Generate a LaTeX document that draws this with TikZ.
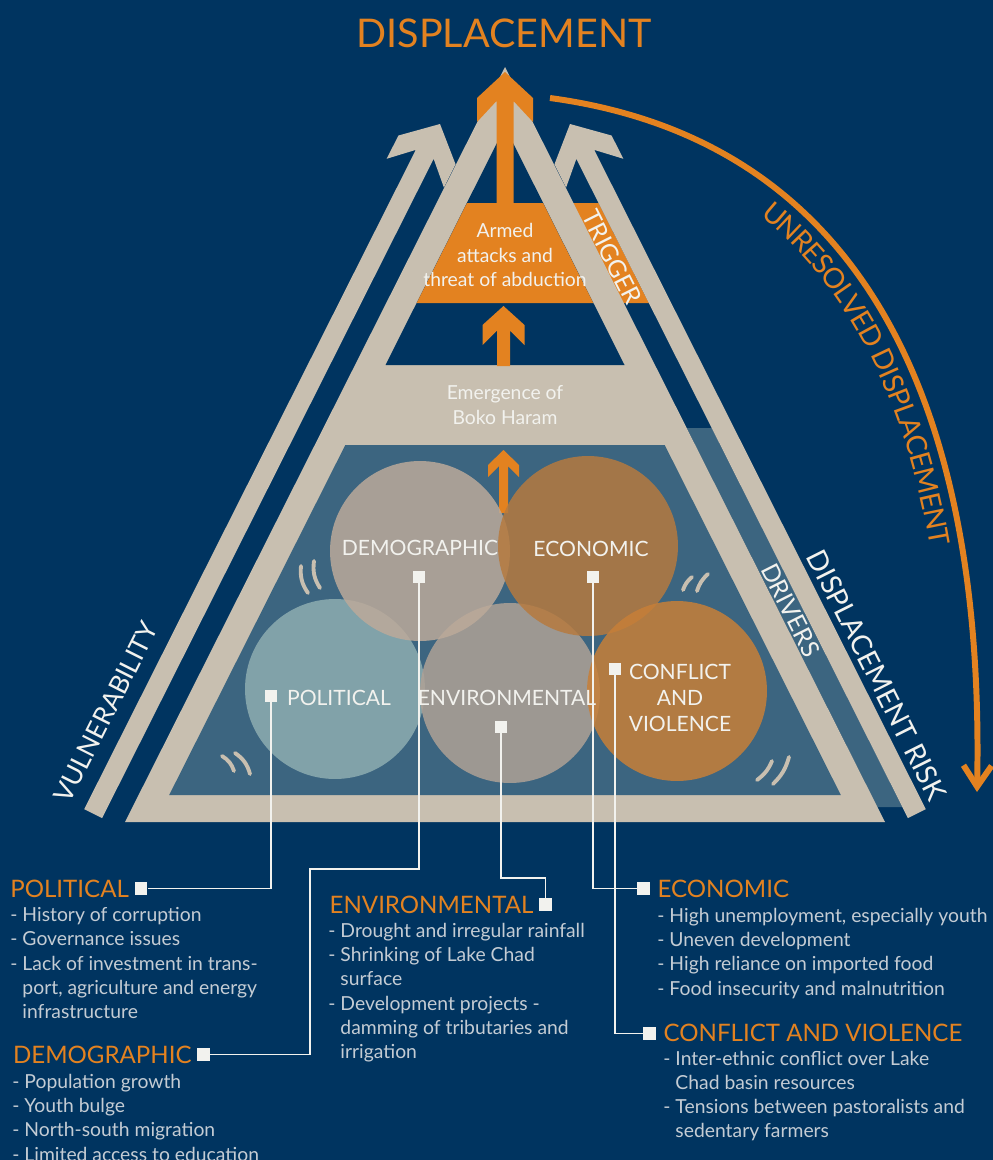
\documentclass[tikz,border=0pt]{standalone}
\usepackage{fontspec}
\setmainfont{Lato}
\usetikzlibrary{positioning,arrows.meta,decorations.text}

\definecolor{bgblue}{RGB}{0,52,96}
\definecolor{beige}{RGB}{200,191,176}
\definecolor{paleblue}{RGB}{60,101,128}
\definecolor{dorange}{RGB}{227,130,32}
\definecolor{listgray}{RGB}{196,204,212}
\definecolor{offwhite}{RGB}{242,242,238}
\definecolor{demfill}{RGB}{188,170,154}
\definecolor{ecofill}{RGB}{182,122,63}
\definecolor{polfill}{RGB}{142,173,177}
\definecolor{envfill}{RGB}{175,161,150}
\definecolor{confill}{RGB}{199,127,56}

% arrow pointing up, tip at the origin: half width, shoulder, wing end, half shaft, notch, length
\newcommand{\chevarrow}[6]{%
  \fill (0,0) -- (#1,#2) -- (#1,#3) -- (#4,#5) -- (#4,#6) -- (-#4,#6) -- (-#4,#5) -- (-#1,#3) -- (-#1,#2) -- cycle;}

\begin{document}
\begin{tikzpicture}[x=0.02cm, y=-0.02cm,
    drv/.style={circle, minimum size=3.6cm, inner sep=0pt, fill opacity=0.85},
    drvlabel/.style={text=offwhite, font=\fontsize{12}{14.7}\selectfont, align=center, inner sep=0pt},
    marker/.style={rectangle, fill=offwhite, minimum size=0.25cm, inner sep=0pt},
    link/.style={draw=offwhite, line width=0.8pt},
    heading/.style={text=dorange, font=\fontsize{13.7}{15}\selectfont, inner sep=0pt, anchor=west},
    listtext/.style={text=listgray, font=\fontsize{11}{13.8}\selectfont, align=left, inner sep=0pt, anchor=north west},
    sidetext/.style={text=offwhite, font=\fontsize{14}{14}\selectfont, inner sep=0pt},
    boxtext/.style={text=offwhite, font=\fontsize{11}{13.9}\selectfont, align=center, inner sep=0pt},
    quotemark/.style={draw=beige, line width=2.2pt, line cap=round},
  ]
  \useasboundingbox (0,0) rectangle (993,1160);
  \clip (0,0) rectangle (993,1160);
  \fill[bgblue] (0,0) rectangle (993,1160);

  % strips outside the triangle
  \fill[dorange] (450,203) -- (598.5,203) -- (648.9,303) -- (400,303) -- cycle;
  \fill[paleblue] (686.8,428) -- (711.7,428) -- (902.3,807) -- (877.5,807) -- cycle;

  % triangle
  \fill[beige] (125,822) -- (505,67) -- (885,822) -- cycle;
  \fill[bgblue] (505,127) -- (624.5,365) -- (385.5,365) -- cycle;
  \fill[paleblue] (345.3,445) -- (664.7,445) -- (840.8,795) -- (169.2,795) -- cycle;
  \fill[dorange] (467,203) -- (543,203) -- (593.3,303) -- (416.7,303) -- cycle;

  % side arrows
  \begin{scope}[beige, shift={(440,124)}, rotate=-26.7]
    \chevarrow{32}{29}{55}{10}{34}{772}
  \end{scope}
  \begin{scope}[beige, shift={(570,124)}, rotate=26.7]
    \chevarrow{32}{29}{55}{10}{34}{772}
  \end{scope}

  % orange arrows
  \begin{scope}[dorange, shift={(505,72)}]
    \chevarrow{28}{26}{50}{8.5}{29}{135}
  \end{scope}
  \begin{scope}[dorange, shift={(503.5,306)}]
    \chevarrow{21}{19}{39}{6.5}{24.5}{60}
  \end{scope}
  \begin{scope}[dorange, shift={(503.5,450)}]
    \chevarrow{15.5}{15}{27}{4.5}{16}{63}
  \end{scope}

  % unresolved displacement
  \coordinate (arcstart) at (550,98);
  \coordinate (arcend) at (977,792);
  \draw[dorange, line width=3.4pt, -{Straight Barb[length=12pt,width=16pt]}]
    (arcstart) .. controls (860,140) and (985,400) .. (arcend);
  \path[decorate, decoration={text along path,
      text={|\fontsize{16}{16}\selectfont\color{dorange}|UNRESOLVED DISPLACEMENT},
      text align=center, raise=-17.5pt}]
    (arcstart) .. controls (860,140) and (985,400) .. (arcend);

  % drivers
  \node[drv, fill=polfill] (cpol) at (335,689) {};
  \node[drv, fill=envfill] (cenv) at (510,693) {};
  \node[drv, fill=demfill] (cdem) at (420,551) {};
  \node[drv, fill=ecofill] (ceco) at (588,546) {};
  \node[drv, fill=confill] (ccon) at (677,691) {};

  \draw[quotemark] (301,566) to[bend right=20] (308,593);
  \draw[quotemark] (314,561) to[bend right=20] (320,588);
  \draw[quotemark] (222,756) to[bend left=20] (234,771);
  \draw[quotemark] (235,753) to[bend left=20] (250,774);
  \draw[quotemark] (683,590) to[bend left=15] (692,577);
  \draw[quotemark] (697,591) to[bend left=15] (708,574);
  \draw[quotemark] (757,780) to[bend right=15] (772,761);
  \draw[quotemark] (773,784) to[bend right=15] (789,757);

  \node[drvlabel] (ldem) at (420,548) {DEMOGRAPHIC};
  \node[drvlabel] (leco) at (591,549) {ECONOMIC};
  \node[drvlabel] (lpol) at (339,698) {POLITICAL};
  \node[drvlabel] (lenv) at (507,698) {ENVIRONMENTAL};
  \node[drvlabel] (lcon) at (680,698) {CONFLICT\\AND\\VIOLENCE};

  % texts in the triangle
  \node[text=dorange, font=\fontsize{22.5}{22.5}\selectfont, inner sep=0pt] (title) at (504,33) {DISPLACEMENT};
  \node[boxtext] (armed) at (505,255) {Armed\\attacks and\\threat of abduction};
  \node[boxtext] (boko) at (505,405) {Emergence of\\Boko Haram};
  \node[sidetext, rotate=-63.3] (trigger) at (612,257) {TRIGGER};
  \node[sidetext, rotate=-63.3] (drivers) at (791,610) {DRIVERS};
  \node[sidetext, font=\fontsize{16}{16}\selectfont, rotate=-63.3] (risk) at (877,675) {DISPLACEMENT RISK};
  \node[sidetext, font=\fontsize{15}{15}\selectfont, rotate=63.3] (vuln) at (106,712) {VULNERABILITY};

  % headings and lists
  \node[heading] (hpol) at (10,888.5) {POLITICAL};
  \node[heading] (hdem) at (12.7,1054.7) {DEMOGRAPHIC};
  \node[heading] (henv) at (329.3,904.7) {ENVIRONMENTAL};
  \node[heading] (heco) at (657.3,888.7) {ECONOMIC};
  \node[heading] (hcon) at (663.3,1033.3) {CONFLICT AND VIOLENCE};

  \node[listtext] (tpol) at (10,907) {- History of corruption\\- Governance issues\\- Lack of investment in trans-\\\phantom{- }port, agriculture and energy\\\phantom{- }infrastructure};
  \node[listtext] (tdem) at (12,1073.7) {- Population growth\\- Youth bulge\\- North-south migration\\- Limited access to education};
  \node[listtext] (tenv) at (328,922.7) {- Drought and irregular rainfall\\- Shrinking of Lake Chad\\\phantom{- }surface\\- Development projects -\\\phantom{- }damming of tributaries and\\\phantom{- }irrigation};
  \node[listtext] (teco) at (657,907.7) {- High unemployment, especially youth\\- Uneven development\\- High reliance on imported food\\- Food insecurity and malnutrition};
  \node[listtext] (tcon) at (663,1050.4) {- Inter-ethnic conflict over Lake\\\phantom{- }Chad basin resources\\- Tensions between pastoralists and\\\phantom{- }sedentary farmers};

  % connectors
  \coordinate (dembend) at (310,869);
  \coordinate (envbend) at (540,878);
  \node[marker, right=3pt of hpol] (qpol) {};
  \node[marker, right=3pt of hdem] (qdem) {};
  \node[marker, right=3pt of henv] (qenv) {};
  \node[marker, left=4pt of heco] (qeco) {};
  \node[marker, left=4pt of hcon] (qcon) {};

  \draw[link] (271,696) coordinate (mp) |- (qpol);
  \draw[link] (419,577) coordinate (md) |- (dembend) |- (qdem);
  \draw[link] (501,727) coordinate (me) |- (qenv |- envbend) -- (qenv);
  \draw[link] (593,577) coordinate (mc) |- (qeco);
  \draw[link] (615,669) coordinate (mv) |- (qcon);

  \node[marker] (mpol) at (mp) {};
  \node[marker] (mdem) at (md) {};
  \node[marker] (menv) at (me) {};
  \node[marker] (meco) at (mc) {};
  \node[marker] (mcon) at (mv) {};
\end{tikzpicture}
\end{document}
